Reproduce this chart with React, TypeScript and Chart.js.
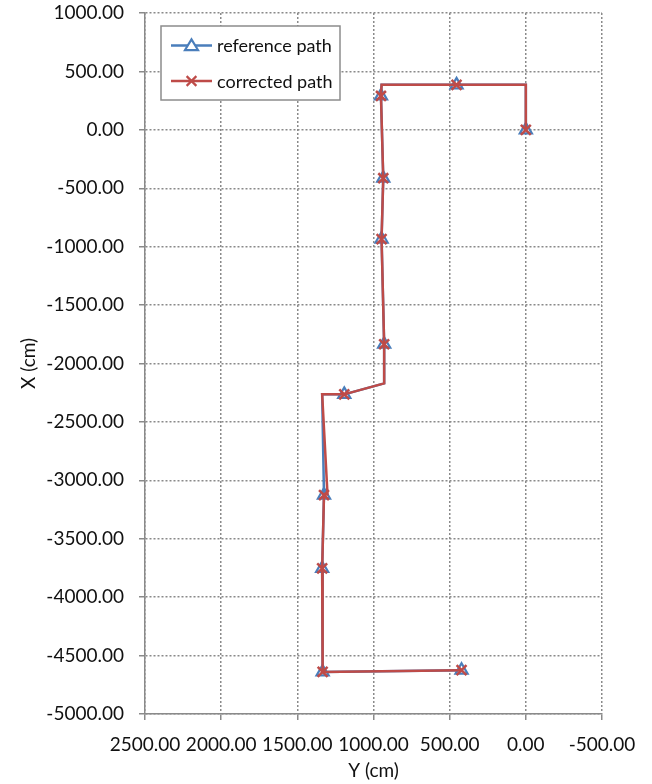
import React, { useEffect, useRef } from "react";
import { Chart, registerables } from "chart.js";

Chart.register(...registerables);

// Reference path: horizontal value = Y (cm), vertical value = X (cm)
const refY = [0, 0, 455, 947, 951, 936, 947, 930, 930, 1192, 1337, 1325, 1337, 1334, 422];
const refX = [0, 385, 385, 385, 290, -414, -935, -1835, -2170, -2264, -2264, -3126, -3754, -4640, -4625];
const refMarker = [1, 0, 1, 0, 1, 1, 1, 1, 0, 1, 0, 1, 1, 1, 1];

// Corrected path
const corY = [0, 0, 455, 947, 951, 936, 947, 930, 930, 1192, 1337, 1302, 1325, 1337, 1334, 422];
const corX = [0, 385, 385, 385, 290, -414, -935, -1835, -2170, -2264, -2264, -3120, -3126, -3754, -4640, -4625];
const corMarker = [1, 0, 1, 0, 1, 1, 1, 1, 0, 1, 0, 0, 1, 1, 1, 1];

const seriesNames = ["reference path", "corrected path"];
const xTitle = "Y (cm)";
const yTitle = "X (cm)";

const BLUE = "#4A7EBB";
const RED = "#BE4B48";
const FONT = "Lato";
const FS = 19;
const TXT = "#111111";
const GRID = "#8a8a8a";

function drawMarker(ctx: CanvasRenderingContext2D, style: string, x: number, y: number, r: number) {
  ctx.beginPath();
  if (style === "triangle") {
    ctx.moveTo(x, y - r * 0.95);
    ctx.lineTo(x - r, y + r * 0.7);
    ctx.lineTo(x + r, y + r * 0.7);
    ctx.closePath();
    ctx.fill();
    ctx.stroke();
  } else {
    const d = r * 0.75;
    ctx.moveTo(x - d, y - d);
    ctx.lineTo(x + d, y + d);
    ctx.moveTo(x + d, y - d);
    ctx.lineTo(x - d, y + d);
    ctx.stroke();
  }
}

const legendPlugin = {
  id: "insideLegend",
  afterDraw(chart: any) {
    const ctx = chart.ctx;
    ctx.save();
    const bx = 161, by = 26, bw = 179, bh = 74;
    ctx.fillStyle = "#ffffff";
    ctx.fillRect(bx, by, bw, bh);
    ctx.strokeStyle = "#8c8c8c";
    ctx.lineWidth = 1.5;
    ctx.strokeRect(bx, by, bw, bh);
    const rows = [
      { y: 45.5, color: BLUE, style: "triangle", text: seriesNames[0] },
      { y: 81, color: RED, style: "crossRot", text: seriesNames[1] },
    ];
    rows.forEach((r) => {
      ctx.strokeStyle = r.color;
      ctx.lineWidth = 2.5;
      ctx.beginPath();
      ctx.moveTo(171, r.y);
      ctx.lineTo(212, r.y);
      ctx.stroke();
      ctx.lineWidth = 2.2;
      ctx.fillStyle = "#ffffff";
      drawMarker(ctx, r.style, 191.5, r.y, 6.5);
      ctx.fillStyle = TXT;
      ctx.font = `18px ${FONT}`;
      ctx.textBaseline = "middle";
      ctx.textAlign = "left";
      ctx.fillText(r.text, 217, r.y + 1);
    });
    ctx.restore();
  },
};

export default function App() {
  const ref = useRef<HTMLCanvasElement | null>(null);

  useEffect(() => {
    if (!ref.current) return;
    const refData = refY.map((v, i) => ({ x: v, y: refX[i] }));
    const corData = corY.map((v, i) => ({ x: v, y: corX[i] }));
    const gridOpts: any = {
      color: GRID,
      lineWidth: 1.5,
      tickBorderDash: [],
      tickColor: GRID,
      tickLength: 6,
      tickWidth: 1.5,
    };
    const borderOpts: any = { display: true, color: GRID, width: 1.5, dash: [2, 2] };
    const chart = new Chart(ref.current, {
      type: "scatter",
      data: {
        datasets: [
          {
            label: seriesNames[1],
            data: corData,
            showLine: true,
            borderColor: RED,
            borderWidth: 2.5,
            pointStyle: "crossRot",
            pointRadius: corMarker.map((m) => (m ? 7 : 0)),
            pointBorderWidth: 2.5,
            pointBorderColor: RED,
            pointBackgroundColor: RED,
            order: 0,
          },
          {
            label: seriesNames[0],
            data: refData,
            showLine: true,
            borderColor: BLUE,
            borderWidth: 2.5,
            pointStyle: "triangle",
            pointRadius: refMarker.map((m) => (m ? 7 : 0)),
            pointBorderWidth: 2.2,
            pointBorderColor: BLUE,
            pointBackgroundColor: "rgba(255,255,255,0)",
            order: 1,
          },
        ],
      },
      options: {
        animation: false,
        responsive: false,
        devicePixelRatio: 1,
        layout: { padding: { left: 0, right: 50, top: 13, bottom: 0 } },
        plugins: {
          legend: { display: false },
          tooltip: { enabled: false },
        },
        scales: {
          x: {
            type: "linear",
            reverse: true,
            min: -500,
            max: 2500,
            afterFit: (s: any) => {
              s.height = 70;
              s.paddingLeft = 0;
              s.paddingRight = 0;
            },
            ticks: {
              stepSize: 500,
              padding: 13,
              color: TXT,
              font: { family: FONT, size: FS },
              callback: (v: any) => Number(v).toFixed(2),
              maxRotation: 0,
              autoSkip: false,
            },
            grid: gridOpts,
            border: borderOpts,
            title: {
              display: true,
              text: xTitle,
              color: TXT,
              font: { family: FONT, size: FS },
              padding: { top: 0, bottom: 2 },
            },
          },
          y: {
            type: "linear",
            min: -5000,
            max: 1000,
            afterFit: (s: any) => {
              s.width = 145;
              s.paddingTop = 0;
              s.paddingBottom = 0;
            },
            ticks: {
              stepSize: 500,
              padding: 15,
              color: TXT,
              font: { family: FONT, size: FS },
              callback: (v: any) => Number(v).toFixed(2),
              autoSkip: false,
            },
            grid: gridOpts,
            border: borderOpts,
            title: {
              display: true,
              text: yTitle,
              color: TXT,
              font: { family: FONT, size: FS },
              padding: { top: 17, bottom: 0 },
            },
          },
        },
      } as any,
      plugins: [legendPlugin],
    });
    return () => chart.destroy();
  }, []);

  return (
    <div style={{ position: "fixed", left: 0, top: 0, width: 652, height: 784, background: "#fff" }}>
      <canvas ref={ref} width={652} height={784} style={{ width: 652, height: 784, display: "block" }} />
    </div>
  );
}
